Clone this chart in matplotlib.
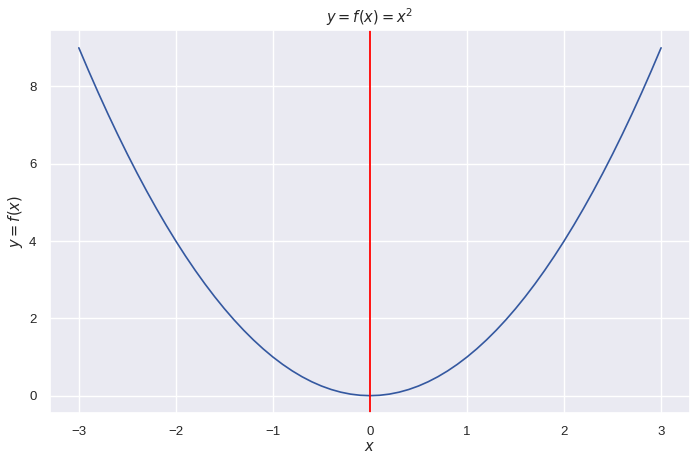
import numpy as np
import matplotlib
matplotlib.use('Agg')
import matplotlib.pyplot as plt
import seaborn as sns

sns.set_theme()
plt.rcParams['font.family'] = ['Liberation Sans', 'DejaVu Sans']

# 曲线上读取的点
xs = [-3.0, -2.9, -2.8, -2.7, -2.6, -2.5, -2.4, -2.3, -2.2, -2.1,
      -2.0, -1.9, -1.8, -1.7, -1.6, -1.5, -1.4, -1.3, -1.2, -1.1,
      -1.0, -0.9, -0.8, -0.7, -0.6, -0.5, -0.4, -0.3, -0.2, -0.1,
      0.0, 0.1, 0.2, 0.3, 0.4, 0.5, 0.6, 0.7, 0.8, 0.9,
      1.0, 1.1, 1.2, 1.3, 1.4, 1.5, 1.6, 1.7, 1.8, 1.9,
      2.0, 2.1, 2.2, 2.3, 2.4, 2.5, 2.6, 2.7, 2.8, 2.9, 3.0]
ys = [9.0, 8.41, 7.84, 7.29, 6.76, 6.25, 5.76, 5.29, 4.84, 4.41,
      4.0, 3.61, 3.24, 2.89, 2.56, 2.25, 1.96, 1.69, 1.44, 1.21,
      1.0, 0.81, 0.64, 0.49, 0.36, 0.25, 0.16, 0.09, 0.04, 0.01,
      0.0, 0.01, 0.04, 0.09, 0.16, 0.25, 0.36, 0.49, 0.64, 0.81,
      1.0, 1.21, 1.44, 1.69, 1.96, 2.25, 2.56, 2.89, 3.24, 3.61,
      4.0, 4.41, 4.84, 5.29, 5.76, 6.25, 6.76, 7.29, 7.84, 8.41, 9.0]
vline_x = 0

fig = plt.figure(figsize=(7, 4.61), dpi=100)
ax = fig.add_axes([0.071, 0.104, 0.915, 0.83])
ax.plot(xs, ys, color='#3458a0', lw=1.2)
ax.axvline(vline_x, color='red', lw=1.3)
ax.set_title(r'$y=f(x)=x^2$', fontsize=10.5, pad=5)
ax.set_xlabel(r'$x$', fontsize=10.5, labelpad=1)
ax.set_ylabel(r'$y=f(x)$', fontsize=10.5, labelpad=3)
ax.tick_params(labelsize=9.5)
fig.savefig('out.png', dpi=100)
